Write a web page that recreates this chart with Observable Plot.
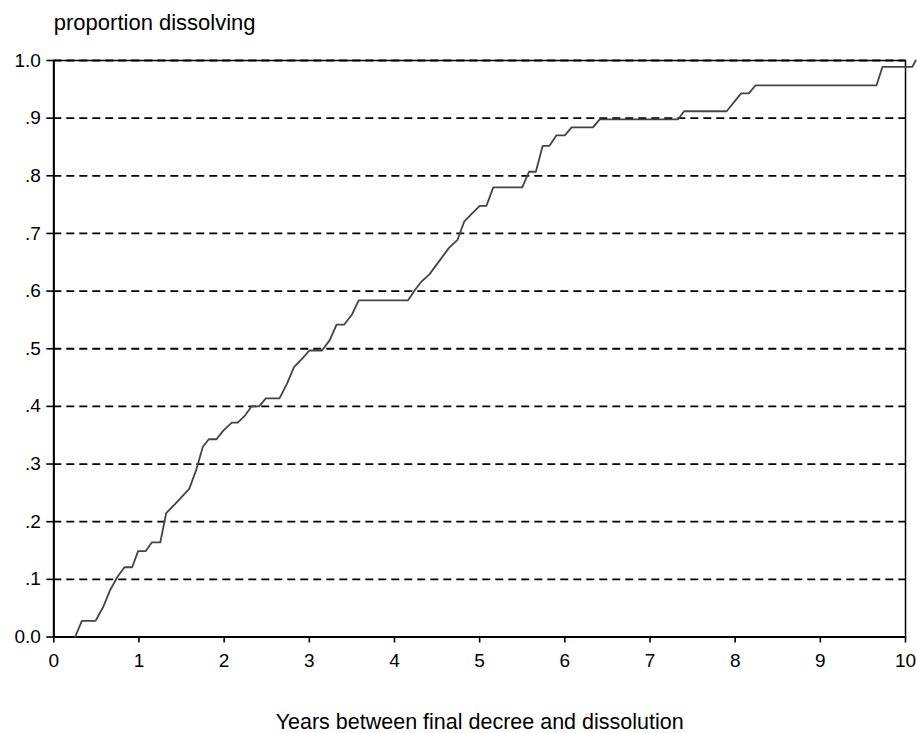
<!DOCTYPE html>
<html>
<head>
<meta charset="utf-8">
<script src="https://cdn.jsdelivr.net/npm/d3@7"></script>
<script src="https://cdn.jsdelivr.net/npm/@observablehq/plot@0.6"></script>
<style>
  html, body { margin: 0; padding: 0; background: #fff; }
  #chart svg { display: block; }
</style>
</head>
<body>
<div id="chart"></div>
<script>
// Cumulative proportion of cases dissolved, by years since final decree
const years = [0.25, 0.33, 0.49, 0.58, 0.66, 0.75, 0.83, 0.92, 0.99, 1.08,
  1.15, 1.25, 1.32, 1.42, 1.59, 1.67, 1.75, 1.82, 1.91, 1.99,
  2.09, 2.16, 2.25, 2.32, 2.41, 2.49, 2.65, 2.74, 2.82, 2.93,
  3.00, 3.15, 3.24, 3.32, 3.41, 3.50, 3.58, 4.16, 4.24, 4.32,
  4.41, 4.64, 4.74, 4.82, 5.00, 5.08, 5.16, 5.50, 5.58, 5.66,
  5.74, 5.82, 5.90, 6.00, 6.08, 6.33, 6.41, 7.33, 7.40, 7.90,
  8.07, 8.16, 8.24, 9.66, 9.73, 10.08, 10.12];
const proportion = [0.000, 0.028, 0.028, 0.052, 0.081, 0.105, 0.121, 0.121, 0.149, 0.149,
  0.164, 0.164, 0.215, 0.230, 0.257, 0.289, 0.330, 0.343, 0.343, 0.358,
  0.372, 0.372, 0.385, 0.400, 0.400, 0.414, 0.414, 0.440, 0.468, 0.485,
  0.497, 0.497, 0.515, 0.542, 0.542, 0.559, 0.584, 0.584, 0.602, 0.617,
  0.629, 0.675, 0.689, 0.721, 0.748, 0.748, 0.780, 0.780, 0.807, 0.807,
  0.852, 0.852, 0.870, 0.870, 0.884, 0.884, 0.898, 0.898, 0.912, 0.912,
  0.943, 0.943, 0.957, 0.957, 0.989, 0.989, 1.000];

const xTicks = [0, 1, 2, 3, 4, 5, 6, 7, 8, 9, 10];
const yTicks = [0, 0.1, 0.2, 0.3, 0.4, 0.5, 0.6, 0.7, 0.8, 0.9, 1.0];
const yTickLabels = ["0.0", ".1", ".2", ".3", ".4", ".5", ".6", ".7", ".8", ".9", "1.0"];
const gridLevels = [0.1, 0.2, 0.3, 0.4, 0.5, 0.6, 0.7, 0.8, 0.9, 1.0];

const yLabel = "proportion dissolving";
const xLabel = "Years between final decree and dissolution";

const series = years.map((t, i) => ({t, p: proportion[i]}));

const font = "'Liberation Sans', Arial, Helvetica, sans-serif";

const chart = Plot.plot({
  width: 917,
  height: 733,
  marginLeft: 53.3,
  marginRight: 12,
  marginTop: 60,
  marginBottom: 96.5,
  style: {fontFamily: font, fontSize: "19px", color: "#000", background: "#fff"},
  x: {domain: [0, 10]},
  y: {domain: [0, 1]},
  marks: [
    Plot.ruleY(gridLevels, {stroke: "#000", strokeWidth: 1.8, strokeDasharray: "8,5"}),
    Plot.frame({stroke: "#000", strokeWidth: 1.5}),
    Plot.ruleX([0], {stroke: "#000", strokeWidth: 2}),
    Plot.ruleY([0], {stroke: "#000", strokeWidth: 2.2}),
    Plot.line(series, {x: "t", y: "p", stroke: "#444", strokeWidth: 1.8}),
    Plot.axisX({ticks: xTicks, tickSize: 6, tickPadding: 10, tickFormat: d => String(d),
      fontSize: 19, label: null, strokeWidth: 1.6}),
    Plot.axisY({ticks: yTicks, tickSize: 7, tickPadding: 6,
      tickFormat: (d, i) => yTickLabels[i], fontSize: 19, label: null, strokeWidth: 1.6}),
    Plot.text([yLabel], {frameAnchor: "top-left", textAnchor: "start", lineAnchor: "middle",
      dy: -37.5, fontSize: 22, fill: "#000"}),
    Plot.text([xLabel], {frameAnchor: "bottom", textAnchor: "middle", lineAnchor: "middle",
      dy: 85.5, fontSize: 21.5, fill: "#000"})
  ]
});

document.getElementById("chart").appendChild(chart);
</script>
</body>
</html>
